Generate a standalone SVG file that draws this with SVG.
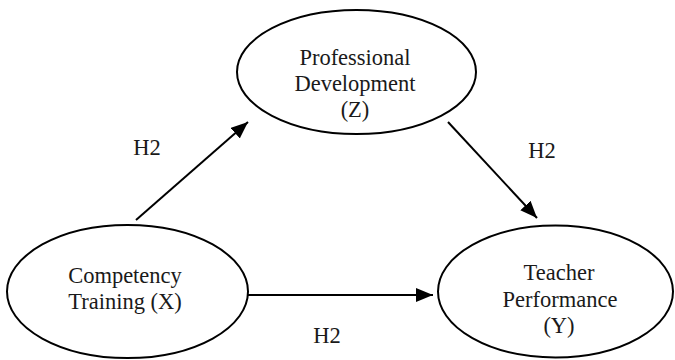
<svg xmlns="http://www.w3.org/2000/svg" width="675" height="360" viewBox="0 0 675 360">
<style>
.node ellipse{fill:#fff;stroke:#000;stroke-width:2}
text{font-family:"Liberation Serif","Times New Roman",serif;font-size:22.5px;fill:#1a1a1a;text-anchor:middle}
.conn line{stroke:#000;stroke-width:2}
</style>
<defs>
<marker id="ah" markerUnits="userSpaceOnUse" markerWidth="18" markerHeight="14" refX="17" refY="7" orient="auto">
<path d="M0,0 L17,7 L0,14 Z" fill="#000"/>
</marker>
</defs>
<rect width="675" height="360" fill="#fff"/>
<g class="conn" id="connectors">
<line x1="136" y1="220" x2="248" y2="122" marker-end="url(#ah)"/>
<line x1="448" y1="122" x2="537" y2="218" marker-end="url(#ah)"/>
<line x1="248" y1="295" x2="433" y2="295" marker-end="url(#ah)"/>
</g>
<g class="node" id="node-z">
<ellipse cx="356.5" cy="72" rx="119.5" ry="62"/>
<text x="355" y="65">Professional</text>
<text x="355" y="91">Development</text>
<text x="355" y="117">(Z)</text>
</g>
<g class="node" id="node-x">
<ellipse cx="127.5" cy="291.5" rx="120.5" ry="66.5"/>
<text x="125" y="283">Competency</text>
<text x="125" y="309">Training (X)</text>
</g>
<g class="node" id="node-y">
<ellipse cx="555.5" cy="291.5" rx="117.5" ry="66"/>
<text x="559" y="280">Teacher</text>
<text x="560" y="307">Performance</text>
<text x="559" y="333">(Y)</text>
</g>
<g id="labels">
<text x="147" y="155">H2</text>
<text x="542" y="158">H2</text>
<text x="327" y="343">H2</text>
</g>
</svg>
